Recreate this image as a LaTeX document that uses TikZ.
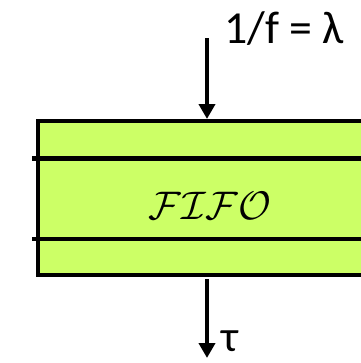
\documentclass[tikz,border=0pt]{standalone}
\usepackage{fontspec}
\setmainfont{Carlito}
\usetikzlibrary{arrows.meta}
\definecolor{fifogreen}{RGB}{204,255,102}
\begin{document}
\begin{tikzpicture}[x=1bp, y=-1bp, >={Triangle[width=16bp,length=15bp]}]
  \useasboundingbox (0,0) rectangle (361,363);
  \clip (0,0) rectangle (361,363);

  % Queue box
  \draw[line width=4.5bp, fill=fifogreen] (38,121) rectangle (380,275);
  \coordinate (in)  at (207,38);
  \coordinate (out) at (207,279);
  \draw[line width=4.5bp] (32,158.5) -- (380,158.5);
  \draw[line width=4.5bp] (32,239) -- (380,239);
  \node[scale=4] (fifo) at (210,206) {$\mathcal{FIFO}$};

  % Arrival and departure
  \draw[->, line width=4bp] (in) -- (207,119);
  \node[anchor=base west, inner sep=0pt] (rate) at (224,43)
    {\fontsize{46}{50}\selectfont 1/f = λ};
  \draw[->, line width=4bp] (out) -- (207,358);
  \node[anchor=base west, inner sep=0pt] (tau) at (221,351)
    {\fontsize{44}{48}\selectfont τ};
\end{tikzpicture}
\end{document}
